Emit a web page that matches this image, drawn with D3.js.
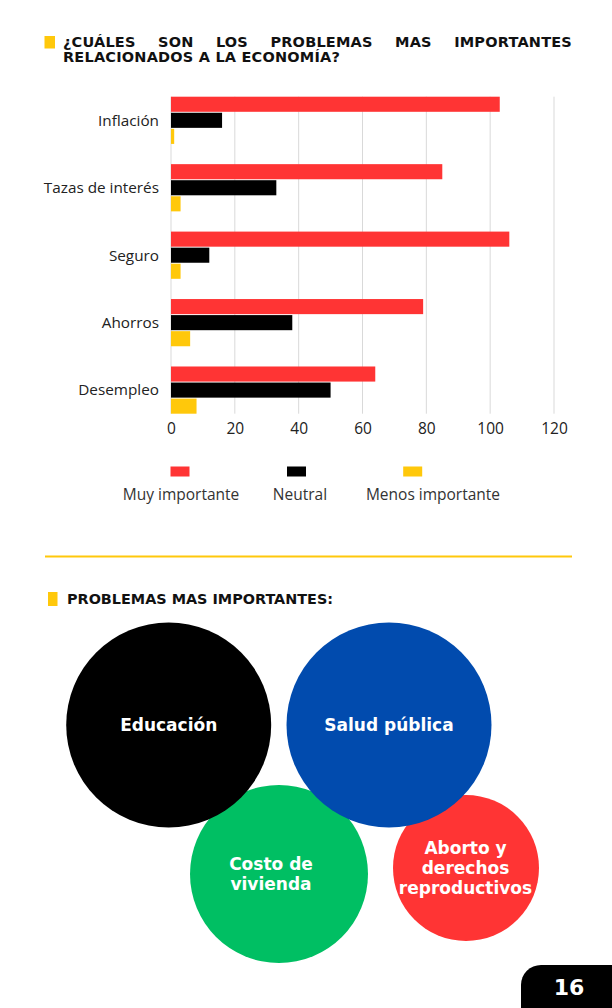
<!DOCTYPE html>
<html>
<head>
<meta charset="utf-8">
<script src="https://cdn.jsdelivr.net/npm/d3@7"></script>
<style>
  html, body { margin: 0; padding: 0; background: #fff; }
  svg { display: block; }
</style>
</head>
<body>
<svg id="chart"></svg>
<script>
// ─── Data ───
const categories = ["Inflación", "Tazas de interés", "Seguro", "Ahorros", "Desempleo"];
const seriesNames = ["Muy importante", "Neutral", "Menos importante"];
const muyImportante = [103, 85, 106, 79, 64];
const neutral = [16, 33, 12, 38, 50];
const menosImportante = [1, 3, 3, 6, 8];
const xTicks = [0, 20, 40, 60, 80, 100, 120];
const topics = [
  ["Costo de", "vivienda"],
  ["Aborto y", "derechos", "reproductivos"],
  ["Educación"],
  ["Salud pública"],
];
const titleLines = ["¿CUÁLES SON LOS PROBLEMAS MAS IMPORTANTES", "RELACIONADOS A LA ECONOMÍA?"];
const title2 = "PROBLEMAS MAS IMPORTANTES:";
const pageNumber = "16";

// ─── Style ───
const W = 612, H = 1008;
const RED = "#ff3434", BLACK = "#000000", YELLOW = "#ffc80b";
const BLUE = "#014bae", GREEN = "#00bf63";
const seriesColors = [RED, BLACK, YELLOW];
const BOLD = "'DejaVu Sans', sans-serif";
const REG = "'Open Sans', sans-serif";

const svg = d3.select("#chart").attr("width", W).attr("height", H)
  .attr("viewBox", `0 0 ${W} ${H}`);
svg.append("rect").attr("width", W).attr("height", H).attr("fill", "#fff");

// ─── Title (justified first line) ───
svg.append("rect").attr("x", 44.5).attr("y", 36).attr("width", 10.5).attr("height", 12.5).attr("fill", YELLOW);

function titleText(sel) {
  return sel.attr("font-family", BOLD).attr("font-weight", 700)
    .attr("font-size", "14.5px").attr("letter-spacing", "0.2px").attr("fill", "#111");
}
function justified(text, x0, x1, y) {
  const words = text.split(" ");
  const g = svg.append("g");
  const nodes = words.map((w) => titleText(g.append("text").text(w).attr("y", y)));
  const widths = nodes.map((n) => n.node().getComputedTextLength());
  const gap = (x1 - x0 - d3.sum(widths)) / (words.length - 1);
  let x = x0;
  nodes.forEach((n, i) => { n.attr("x", x); x += widths[i] + gap; });
}
justified(titleLines[0], 63, 572, 47);
titleText(svg.append("text").text(titleLines[1]).attr("x", 63).attr("y", 62));

// ─── Bar chart ───
const table = categories.map((c, i) => ({
  name: c,
  values: [muyImportante[i], neutral[i], menosImportante[i]],
}));

const x = d3.scaleLinear().domain([0, 120]).range([171, 554]);
const y = d3.scaleBand().domain(categories).range([96.7, 413.7]).paddingInner(0.3).paddingOuter(0);
const ySub = d3.scaleBand().domain(d3.range(seriesNames.length)).range([0, y.bandwidth()]).paddingInner(0.06);

// grid
svg.append("g").selectAll("line").data(xTicks).join("line")
  .attr("x1", (d) => x(d)).attr("x2", (d) => x(d))
  .attr("y1", y.range()[0]).attr("y2", y.range()[1])
  .attr("stroke", "#d9d9d9").attr("stroke-width", 1);

// x axis labels
const xAxis = svg.append("g").attr("transform", `translate(0,${y.range()[1]})`)
  .call(d3.axisBottom(x).tickValues(xTicks).tickSize(0).tickPadding(9));
xAxis.select(".domain").remove();
xAxis.selectAll("text").attr("font-family", REG).attr("font-size", "15.5px").attr("fill", "#222");

// bars
const groups = svg.append("g").selectAll("g").data(table).join("g")
  .attr("transform", (d) => `translate(0,${y(d.name)})`);
groups.selectAll("rect").data((d) => d.values).join("rect")
  .attr("x", x(0))
  .attr("y", (d, i) => ySub(i))
  .attr("width", (d) => x(d) - x(0))
  .attr("height", ySub.bandwidth())
  .attr("fill", (d, i) => seriesColors[i]);

// category labels
svg.append("g").selectAll("text").data(categories).join("text")
  .attr("x", 159).attr("y", (d) => y(d) + y.bandwidth() / 2)
  .attr("dy", "0.35em").attr("text-anchor", "end")
  .attr("font-family", REG).attr("font-size", "15.3px").attr("fill", "#222")
  .text((d) => d);

// legend
const legendSq = [180, 296.5, 412.7];
const legendTx = [181, 300, 433];
const legend = svg.append("g");
legend.selectAll("rect").data(seriesNames).join("rect")
  .attr("x", (d, i) => legendSq[i] - 9.5).attr("y", 466.5)
  .attr("width", 19).attr("height", 10)
  .attr("fill", (d, i) => seriesColors[i]);
legend.selectAll("text").data(seriesNames).join("text")
  .attr("x", (d, i) => legendTx[i]).attr("y", 495).attr("dy", "0.35em")
  .attr("text-anchor", "middle").attr("font-family", REG).attr("font-size", "15.5px")
  .attr("fill", "#333").text((d) => d);

// divider
svg.append("line").attr("x1", 45).attr("x2", 572).attr("y1", 556.5).attr("y2", 556.5)
  .attr("stroke", YELLOW).attr("stroke-width", 2);

// ─── Section 2 ───
svg.append("rect").attr("x", 48).attr("y", 592).attr("width", 9.5).attr("height", 14).attr("fill", YELLOW);
svg.append("text").text(title2).attr("x", 67).attr("y", 603.5)
  .attr("font-family", BOLD).attr("font-weight", 700).attr("font-size", "14.4px").attr("fill", "#111");

// bubbles, drawn back to front
const bubbleLayout = [
  { cx: 279, cy: 874, r: 89, fill: GREEN, tx: 271, ty: 874 },
  { cx: 466, cy: 868, r: 73, fill: RED, tx: 465.5, ty: 868 },
  { cx: 168.7, cy: 725, r: 102.5, fill: BLACK, tx: 168.7, ty: 725 },
  { cx: 389, cy: 725, r: 102.5, fill: BLUE, tx: 389, ty: 725 },
];
const bubbles = svg.append("g").selectAll("g").data(topics).join("g");
bubbles.append("circle")
  .attr("cx", (d, i) => bubbleLayout[i].cx).attr("cy", (d, i) => bubbleLayout[i].cy)
  .attr("r", (d, i) => bubbleLayout[i].r).attr("fill", (d, i) => bubbleLayout[i].fill);
bubbles.each(function (lines, i) {
  const L = bubbleLayout[i];
  const lh = 20;
  d3.select(this).selectAll("text").data(lines).join("text")
    .attr("x", L.tx)
    .attr("y", (d, j) => L.ty + (j - (lines.length - 1) / 2) * lh)
    .attr("dy", "0.36em").attr("text-anchor", "middle")
    .attr("font-family", BOLD).attr("font-weight", 700).attr("font-size", "17px")
    .attr("fill", "#fff").text((d) => d);
});

// ─── Page number ───
svg.append("path")
  .attr("d", "M521,1008 V985 A20,20 0 0 1 541,965 H612 V1008 Z")
  .attr("fill", "#000");
svg.append("text").text(pageNumber).attr("x", 569).attr("y", 987).attr("dy", "0.36em")
  .attr("text-anchor", "middle").attr("font-family", BOLD).attr("font-weight", 700)
  .attr("font-size", "22px").attr("fill", "#fff");
</script>
</body>
</html>
